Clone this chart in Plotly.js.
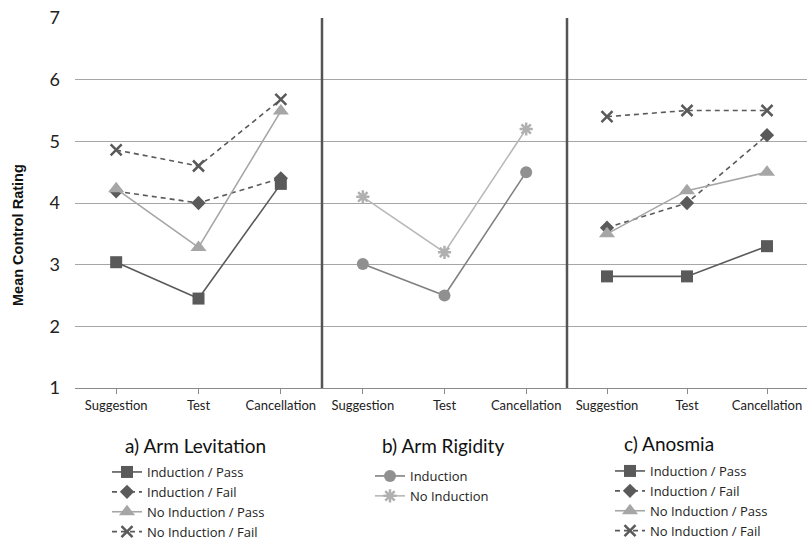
<!DOCTYPE html>
<html>
<head>
<meta charset="utf-8">
<script src="https://cdn.plot.ly/plotly-3.0.1.min.js"></script>
<style>html,body{margin:0;padding:0;background:#fff;}#chart{width:807px;height:540px;}</style>
</head>
<body>
<div id="chart"></div>
<script>
var categories = ["Suggestion", "Test", "Cancellation"];
var panelTitles = ["a) Arm Levitation", "b) Arm Rigidity", "c) Anosmia"];

// a) Arm Levitation
var levIndPass = [3.04, 2.45, 4.31];
var levIndFail = [4.19, 4.0, 4.4];
var levNoIndPass = [4.23, 3.28, 5.49];
var levNoIndFail = [4.86, 4.6, 5.68];

// b) Arm Rigidity
var rigInd = [3.01, 2.5, 4.5];
var rigNoInd = [4.1, 3.2, 5.2];

// c) Anosmia
var anoIndPass = [2.81, 2.81, 3.3];
var anoIndFail = [3.6, 4.0, 5.1];
var anoNoIndPass = [3.5, 4.2, 4.5];
var anoNoIndFail = [5.4, 5.5, 5.5];

var DARK = "#5a5a5a";
var LIGHT = "#a6a6a6";
var FONT = "Lato, 'Open Sans', sans-serif";
var LFONT = "'Open Sans', Lato, sans-serif";

function styleIP(){ return {line:{color:DARK,width:1.6}, marker:{symbol:"square",size:12,color:DARK}}; }
function styleIF(){ return {line:{color:DARK,width:1.6,dash:"5px,4px"}, marker:{symbol:"diamond",size:11,color:DARK}}; }
function styleNP(){ return {line:{color:LIGHT,width:1.6}, marker:{symbol:"triangle-up",size:14,color:LIGHT}}; }
function styleNF(){ return {line:{color:DARK,width:1.6,dash:"5px,4px"}, marker:{symbol:"x-thin-open",size:11,color:DARK,line:{width:2.5,color:DARK}}}; }

function tr(y, name, xa, lg, st){
  var t = {x:categories, y:y, name:name, type:"scatter", mode:"lines+markers", xaxis:xa, yaxis:"y", legend:lg};
  t.line = st.line; t.marker = st.marker;
  return t;
}

var data = [
  tr(levIndPass, "Induction / Pass", "x", "legend", styleIP()),
  tr(levIndFail, "Induction / Fail", "x", "legend", styleIF()),
  tr(levNoIndPass, "No Induction / Pass", "x", "legend", styleNP()),
  tr(levNoIndFail, "No Induction / Fail", "x", "legend", styleNF()),
  tr(rigInd, "Induction", "x2", "legend2", {line:{color:"#808080",width:1.6}, marker:{symbol:"circle",size:12,color:"#909090"}}),
  tr(rigNoInd, "No Induction", "x2", "legend2", {line:{color:"#b8b8b8",width:1.6}, marker:{symbol:"asterisk-open",size:11,color:"#b0b0b0",line:{width:2.5,color:"#b0b0b0"}}}),
  tr(anoIndPass, "Induction / Pass", "x3", "legend3", styleIP()),
  tr(anoIndFail, "Induction / Fail", "x3", "legend3", styleIF()),
  tr(anoNoIndPass, "No Induction / Pass", "x3", "legend3", styleNP()),
  tr(anoNoIndFail, "No Induction / Fail", "x3", "legend3", styleNF())
];

var d1 = (322-75)/732, d2 = (567-75)/732;

function xax(dom){
  return {domain:dom, type:"category", range:[-0.5,2.5], showgrid:false, showline:true, linecolor:"#8a8a8a", linewidth:1,
    ticks:"outside", ticklen:5, tickcolor:"#8a8a8a", tickangle:0, tickfont:{family:FONT,size:13,color:"#222"}, anchor:"y", fixedrange:true};
}

function leg(x, y){
  return {xref:"container", yref:"container", x:x, y:y, xanchor:"left", yanchor:"top", bgcolor:"rgba(0,0,0,0)",
    font:{family:LFONT,size:13,color:"#222"}, itemwidth:30, tracegroupgap:0, borderwidth:0};
}

var layout = {
  width:807, height:540,
  margin:{l:75, r:0, t:18, b:152, autoexpand:false},
  paper_bgcolor:"#fff", plot_bgcolor:"#fff",
  font:{family:FONT, color:"#222"},
  xaxis: xax([0,d1]),
  xaxis2: xax([d1,d2]),
  xaxis3: xax([d2,1]),
  yaxis:{range:[1,7], dtick:1, showgrid:true, gridcolor:"#a6a6a6", gridwidth:1, zeroline:false, showline:false,
    tickfont:{family:FONT,size:18,color:"#222"}, ticks:"", ticklabelstandoff:14, fixedrange:true},
  showlegend:true,
  legend: leg(107/807, 1-457/540),
  legend2: leg(370/807, 1-461/540),
  legend3: leg(610/807, 1-456/540),
  shapes:[
    {type:"line", xref:"paper", yref:"paper", x0:d1, x1:d1, y0:0, y1:1, line:{color:"#555",width:2.5}},
    {type:"line", xref:"paper", yref:"paper", x0:d2, x1:d2, y0:0, y1:1, line:{color:"#555",width:2.5}}
  ],
  annotations:[
    {text:"<b>Mean Control Rating</b>", xref:"paper", yref:"paper", x:(18-75)/732, y:(388-235)/370, textangle:-90,
      xanchor:"center", yanchor:"middle",
      showarrow:false, font:{family:"Liberation Sans, Arial, sans-serif",size:14.5,color:"#111"}},
    {text:panelTitles[0], xref:"paper", yref:"paper", x:(195-75)/732, y:(388-445)/370, xanchor:"center", yanchor:"middle", showarrow:false, font:{family:FONT,size:19,color:"#111"}},
    {text:panelTitles[1], xref:"paper", yref:"paper", x:(443-75)/732, y:(388-445)/370, xanchor:"center", yanchor:"middle", showarrow:false, font:{family:FONT,size:19,color:"#111"}},
    {text:panelTitles[2], xref:"paper", yref:"paper", x:(669-75)/732, y:(388-443)/370, xanchor:"center", yanchor:"middle", showarrow:false, font:{family:FONT,size:19,color:"#111"}}
  ]
};

Plotly.newPlot("chart", data, layout, {displayModeBar:false, staticPlot:true});
</script>
</body>
</html>
